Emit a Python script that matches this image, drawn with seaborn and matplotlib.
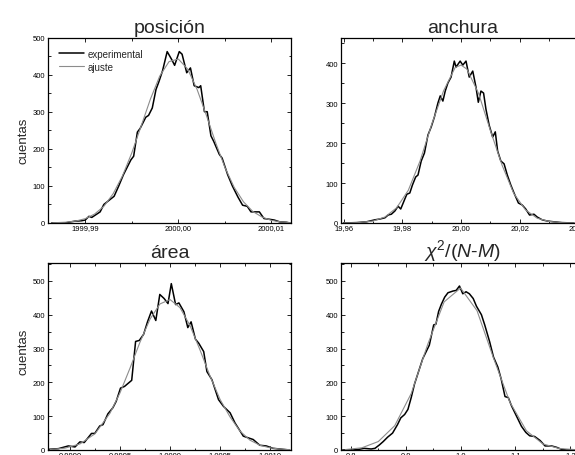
import numpy as np
import pandas as pd
import matplotlib
matplotlib.use('Agg')
import matplotlib.pyplot as plt
from matplotlib.ticker import MultipleLocator, FuncFormatter
import seaborn as sns

# ---- data (histograms + gaussian fits) ----

# posición
pos_x = [1999.9864, 1999.9878, 1999.9882, 1999.9889, 1999.9896, 1999.9900, 1999.9904,
         1999.9907, 1999.9913, 1999.9916, 1999.9920, 1999.9925, 1999.9931, 1999.9936,
         1999.9941, 1999.9945, 1999.9949, 1999.9952, 1999.9956, 1999.9959, 1999.9965,
         1999.9968, 1999.9972, 1999.9976, 1999.9979, 1999.9983, 1999.9988, 1999.9993,
         1999.9996, 2000.0001, 2000.0004, 2000.0009, 2000.0013, 2000.0017, 2000.0022,
         2000.0024, 2000.0028, 2000.0031, 2000.0035, 2000.0038, 2000.0044, 2000.0047,
         2000.0053, 2000.0058, 2000.0064, 2000.0069, 2000.0074, 2000.0078, 2000.0083,
         2000.0087, 2000.0092, 2000.0098, 2000.0103, 2000.0109, 2000.0116, 2000.0120]
pos_exp = [0, 0, 2, 5, 6, 8, 18, 15, 25, 30, 50, 60, 72, 100, 130, 150, 170, 180, 245,
           255, 285, 290, 310, 360, 380, 410, 462, 440, 425, 462, 455, 405, 418, 370, 365,
           370, 300, 300, 235, 220, 185, 175, 130, 100, 70, 48, 45, 30, 30, 30, 12, 10, 8,
           3, 2, 0]
pos_fit_x = [1999.9865, 1999.9880, 1999.9890, 1999.9900, 1999.9910, 1999.9920, 1999.9930,
             1999.9940, 1999.9950, 1999.9960, 1999.9970, 1999.9980, 1999.9990, 2000.0000,
             2000.0010, 2000.0020, 2000.0030, 2000.0040, 2000.0050, 2000.0060, 2000.0070,
             2000.0080, 2000.0090, 2000.0100, 2000.0110, 2000.0120]
pos_fit = [0.5, 2.3, 5.3, 11.7, 24, 45, 79, 127, 189, 261, 334, 396, 435, 442, 415, 361,
           291, 217, 150, 96, 57, 31, 16, 7, 3, 1]

# anchura
anc_x = [19.9598, 19.9643, 19.9677, 19.9706, 19.9723, 19.9740, 19.9751, 19.9762, 19.9774,
         19.9785, 19.9794, 19.9808, 19.9815, 19.9825, 19.9834, 19.9845, 19.9853, 19.9864,
         19.9875, 19.9887, 19.9898, 19.9909, 19.9921, 19.9929, 19.9938, 19.9946, 19.9955,
         19.9966, 19.9977, 19.9983, 19.9997, 20.0006, 20.0017, 20.0028, 20.0040, 20.0051,
         20.0059, 20.0068, 20.0077, 20.0085, 20.0096, 20.0108, 20.0117, 20.0125, 20.0136,
         20.0147, 20.0158, 20.0170, 20.0181, 20.0196, 20.0209, 20.0221, 20.0234, 20.0249,
         20.0260, 20.0277, 20.0294, 20.0317, 20.0345, 20.0385]
anc_exp = [0, 1, 3, 8, 10, 13, 20, 22, 30, 42, 35, 60, 72, 75, 95, 115, 120, 155, 175, 220,
           240, 265, 300, 318, 305, 330, 350, 365, 405, 390, 405, 395, 405, 365, 380, 340,
           302, 330, 325, 285, 245, 215, 228, 180, 155, 148, 120, 95, 75, 50, 45, 35, 20,
           22, 15, 8, 5, 3, 1, 0]
anc_fit_x = [19.960, 19.965, 19.970, 19.974, 19.978, 19.982, 19.986, 19.990, 19.994,
             19.998, 20.000, 20.002, 20.006, 20.010, 20.014, 20.018, 20.022, 20.026,
             20.030, 20.034, 20.040]
anc_fit = [0.2, 1, 5, 15, 38, 82, 155, 247, 330, 389, 395, 385, 324, 232, 145, 74, 33,
           12, 4, 1, 0.1]

# área
are_x = [0.998785, 0.998884, 0.998983, 0.999050, 0.999099, 0.999142, 0.999215, 0.999248,
         0.999297, 0.999330, 0.999379, 0.999429, 0.999462, 0.999505, 0.999545, 0.999617,
         0.999656, 0.999693, 0.999736, 0.999775, 0.999815, 0.999858, 0.999898, 0.999941,
         0.999980, 1.000013, 1.000056, 1.000089, 1.000139, 1.000178, 1.000211, 1.000254,
         1.000287, 1.000337, 1.000369, 1.000419, 1.000485, 1.000535, 1.000601, 1.000650,
         1.000733, 1.000782, 1.000832, 1.000898, 1.000963, 1.001030, 1.001129, 1.001195]
are_exp = [2, 4, 12, 9, 24, 22, 49, 49, 71, 75, 107, 125, 144, 183, 188, 206, 321, 324,
           342, 379, 411, 383, 460, 448, 433, 492, 430, 435, 409, 362, 379, 328, 316, 291,
           232, 208, 149, 129, 110, 80, 41, 36, 31, 14, 12, 5, 2, 0]
are_fit_x = [0.99880, 0.99895, 0.99910, 0.99925, 0.99940, 0.99950, 0.99960, 0.99970,
             0.99980, 0.99990, 1.00000, 1.00010, 1.00020, 1.00030, 1.00040, 1.00050,
             1.00060, 1.00070, 1.00080, 1.00090, 1.00100, 1.00110, 1.00120]
are_fit = [1.4, 5.5, 18, 48, 109, 169, 242, 319, 387, 432, 445, 421, 368, 296, 219, 150,
           98, 56, 29, 14, 6.5, 2.7, 1]

# chi2/(N-M)
chi_x = [0.785, 0.803, 0.815, 0.824, 0.837, 0.844, 0.852, 0.859, 0.867, 0.876, 0.885,
         0.891, 0.898, 0.904, 0.910, 0.916, 0.925, 0.931, 0.937, 0.943, 0.951, 0.955,
         0.960, 0.965, 0.971, 0.977, 0.986, 0.992, 0.998, 1.004, 1.010, 1.016, 1.023,
         1.029, 1.038, 1.044, 1.053, 1.060, 1.068, 1.074, 1.081, 1.087, 1.093, 1.102,
         1.111, 1.119, 1.126, 1.135, 1.145, 1.154, 1.166, 1.175, 1.184, 1.193, 1.209]
chi_exp = [0, 0, 2, 5, 3, 5, 15, 25, 38, 50, 75, 95, 105, 120, 155, 195, 240, 270, 290,
           310, 370, 372, 410, 431, 452, 465, 470, 472, 485, 462, 468, 462, 448, 425, 400,
           370, 320, 275, 245, 210, 158, 155, 130, 100, 70, 52, 42, 40, 28, 12, 12, 8, 2,
           0, 0]
chi_fit_x = [0.79, 0.82, 0.85, 0.88, 0.91, 0.94, 0.97, 1.00, 1.03, 1.06, 1.09, 1.12,
             1.15, 1.18, 1.21]
chi_fit = [1.3, 6.5, 25, 72, 167, 312, 438, 479, 412, 272, 141, 57, 18, 4.4, 1]

# ---- style ----
sns.set_theme(style='ticks')
plt.rcParams['font.family'] = ['Liberation Sans', 'DejaVu Sans']
plt.rcParams['mathtext.fontset'] = 'custom'
plt.rcParams['mathtext.rm'] = 'Liberation Sans'
plt.rcParams['mathtext.it'] = 'Liberation Sans:italic'

fig = plt.figure(figsize=(5.75, 4.56), dpi=100)
W, H = 575, 456
ax1 = fig.add_axes([48 / W, 1 - 224 / H, 243 / W, 185.5 / H])
ax2 = fig.add_axes([341 / W, 1 - 224 / H, 243 / W, 185.5 / H])
ax3 = fig.add_axes([48 / W, 1 - 451 / H, 243 / W, 187 / H])
ax4 = fig.add_axes([341 / W, 1 - 451 / H, 243 / W, 187 / H])

panels = [
    (ax1, pos_x, pos_exp, pos_fit_x, pos_fit, 'posición', (1999.9860, 2000.0121), (0, 500), 0.01, 2),
    (ax2, anc_x, anc_exp, anc_fit_x, anc_fit, 'anchura', (19.9590, 20.0420), (0, 464), 0.02, 2),
    (ax3, are_x, are_exp, are_fit_x, are_fit, 'área', (0.99878, 1.00121), (0, 553), 0.0005, 4),
    (ax4, chi_x, chi_exp, chi_fit_x, chi_fit, r'$\chi^2$/($N$-$M$)', (0.782, 1.225), (0, 553), 0.1, 1),
]

for ax, x, y, fx, fy, title, xlim, ylim, step, dec in panels:
    sns.lineplot(x=x, y=y, ax=ax, color='black', lw=1.1, label='experimental')
    sns.lineplot(x=fx, y=fy, ax=ax, color='#8c8c8c', lw=0.8, label='ajuste')
    ax.set_xlim(*xlim)
    ax.set_ylim(*ylim)
    ax.xaxis.set_major_locator(MultipleLocator(step))
    ax.xaxis.set_minor_locator(MultipleLocator(step / 2))
    ax.yaxis.set_major_locator(MultipleLocator(100))
    ax.yaxis.set_minor_locator(MultipleLocator(50))
    ax.xaxis.set_major_formatter(FuncFormatter(lambda v, p, d=dec: f'{v:.{d}f}'.replace('.', ',')))
    ax.tick_params(which='both', direction='in', top=True, right=True, labelsize=5.5,
                   width=0.6, pad=2, colors='black')
    ax.tick_params(axis='x', which='major', pad=1)
    ax.tick_params(which='major', length=3)
    ax.tick_params(which='minor', length=1.8)
    for sp in ax.spines.values():
        sp.set_linewidth(0.9)
        sp.set_color('black')
    ax.set_title(title, fontsize=14, pad=4)
    ax.set_xlabel('')
    ax.set_ylabel('')
    if ax is not ax1:
        ax.get_legend().remove()

leg = ax1.legend(loc='upper left', bbox_to_anchor=(0.045, 0.94), frameon=False, fontsize=7,
                 handlelength=2.6, handletextpad=0.35, labelspacing=0.3, borderpad=0,
                 borderaxespad=0)

ax1.set_ylabel('cuentas', fontsize=9.5)
ax1.yaxis.set_label_coords(-0.075, 0.45)
ax3.set_ylabel('cuentas', fontsize=9.5)
ax3.yaxis.set_label_coords(-0.075, 0.53)

fig.savefig('out.png', dpi=100)
